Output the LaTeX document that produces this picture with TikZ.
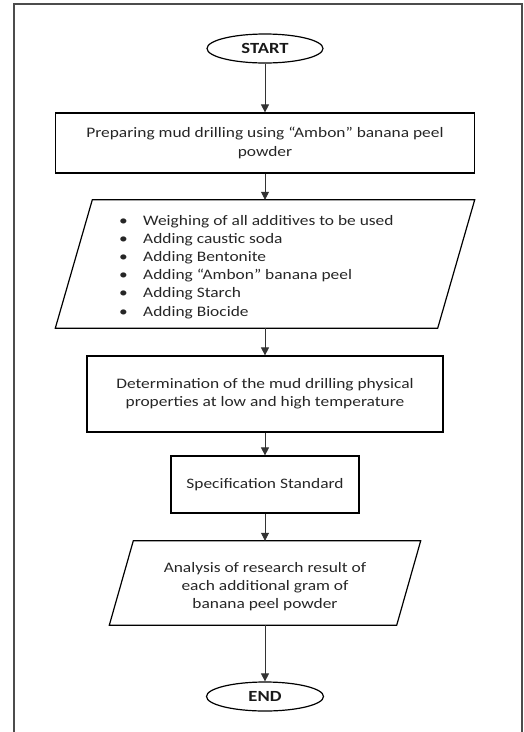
\documentclass[tikz,border=0pt]{standalone}
\usepackage{fontspec}
\setmainfont{Carlito}[FakeStretch=1.2]
\usetikzlibrary{arrows.meta,shapes.geometric}
\begin{document}
\begin{tikzpicture}[x=1pt,y=1pt,
  procbox/.style={draw=black,line width=1.2pt,rectangle,inner sep=0pt,align=center,
    text=black!85,font=\fontsize{14.5}{18.3}\selectfont},
  term/.style={draw=black,line width=1.2pt,ellipse,inner sep=0pt,text=black!90,
    font=\bfseries\fontsize{15.5}{20}\selectfont},
  ioarea/.style={draw=none,rectangle,inner sep=0pt},
  iolines/.style={draw=black,line width=1.2pt,line join=miter},
  listtext/.style={align=left,inner sep=0pt,text=black!85,font=\fontsize{14.5}{18.1}\selectfont},
  flow/.style={draw=black!80,line width=0.8pt,-{Triangle[width=8pt,length=8pt]}},
  framelines/.style={draw=black!70,line width=1.5pt}]
\useasboundingbox (0,0) rectangle (523,-732);
\draw[framelines] (14,-732) -- (14,-4) -- (522,-4) -- (522,-732);

\node[term,minimum width=116,minimum height=29] (start) at (265,-48.5) {START};
\node[procbox,minimum width=419,minimum height=60] (b1) at (265,-143)
  {Preparing mud drilling using “Ambon” banana peel\\powder};
\node[ioarea,minimum width=419,minimum height=128] (p1) at (265,-264) {};
\draw[iolines] ([xshift=37]p1.north west) -- (p1.north east) -- ([xshift=-37]p1.south east) -- (p1.south west) -- cycle;
\node[listtext,anchor=west] (p1t) at (119,-267) {%
  \makebox[24pt][l]{•}Weighing of all additives to be used\\
  \makebox[24pt][l]{•}Adding caustic soda\\
  \makebox[24pt][l]{•}Adding Bentonite\\
  \makebox[24pt][l]{•}Adding “Ambon” banana peel\\
  \makebox[24pt][l]{•}Adding Starch\\
  \makebox[24pt][l]{•}Adding Biocide};
\node[procbox,minimum width=356,minimum height=76] (b2) at (265,-394)
  {Determination of the mud drilling physical\\properties at low and high temperature};
\node[procbox,minimum width=188,minimum height=57] (b3) at (265,-484.5) {Specification Standard};
\node[ioarea,minimum width=311,minimum height=84] (p2) at (265,-583) {};
\draw[iolines] ([xshift=24]p2.north west) -- (p2.north east) -- ([xshift=-24]p2.south east) -- (p2.south west) -- cycle;
\node[listtext,align=center] (p2t) at (265,-587)
  {Analysis of research result of\\each additional gram of\\banana peel powder};
\node[term,minimum width=117,minimum height=29] (end) at (265,-696.5) {END};

\draw[flow] (start) -- (b1);
\draw[flow] (b1) -- (p1);
\draw[flow] (p1) -- (b2);
\draw[flow] (b2) -- (b3);
\draw[flow] (b3) -- (p2);
\draw[flow] (p2) -- (end);
\end{tikzpicture}
\end{document}
